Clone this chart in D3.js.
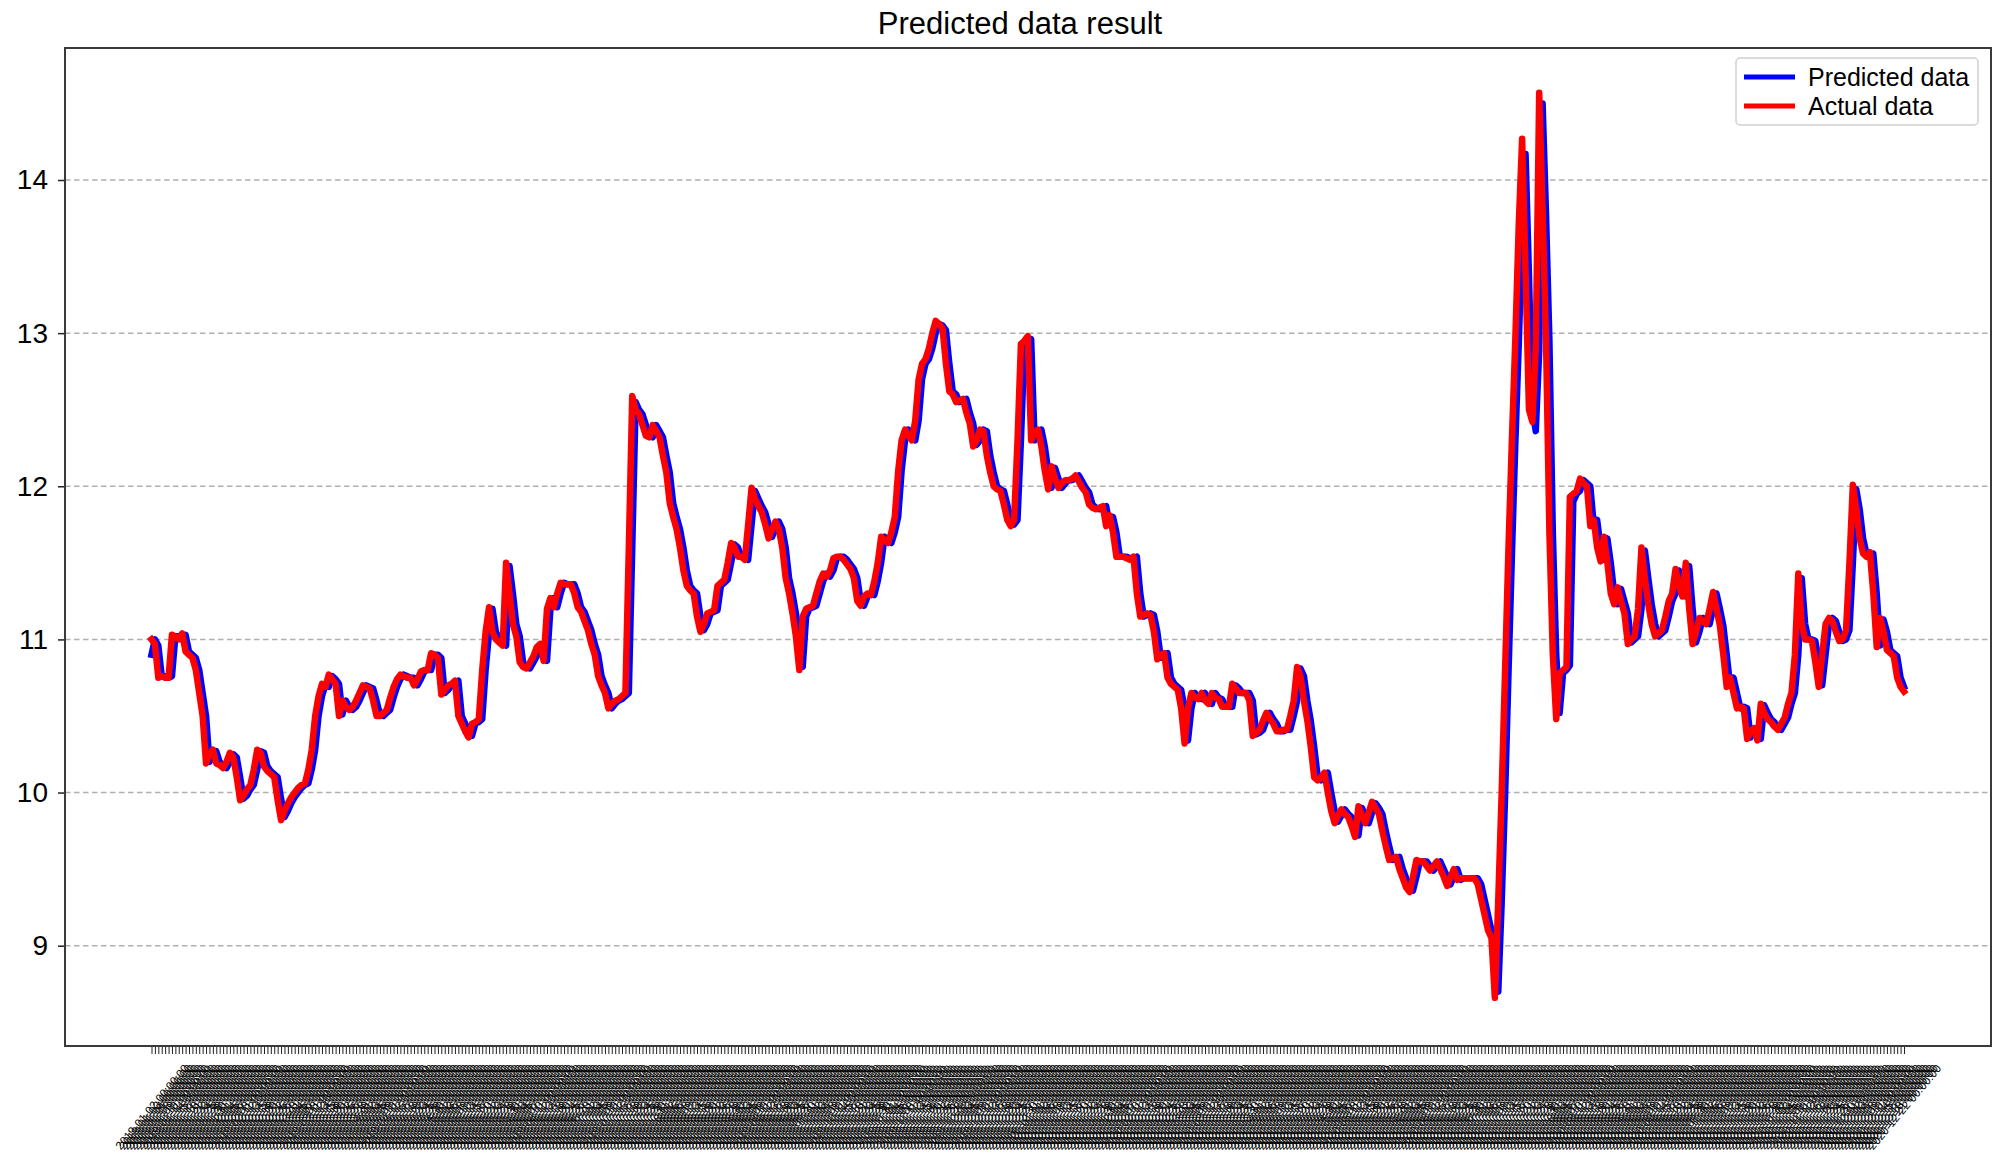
<!DOCTYPE html>
<html>
<head>
<meta charset="utf-8">
<script src="https://cdn.jsdelivr.net/npm/d3@7"></script>
<style>
  html, body { margin: 0; padding: 0; background: #ffffff; }
  svg { display: block; font-family: "Liberation Sans", Arial, sans-serif; }
</style>
</head>
<body>
<svg id="chart" width="2000" height="1160"></svg>
<script>
const actual = [
11.0,10.97,10.75,10.76,10.75,10.75,11.03,11.02,11.0,11.04,
10.92,10.9,10.88,10.8,10.65,10.5,10.19,10.25,10.28,10.19,
10.18,10.16,10.2,10.26,10.23,10.1,9.95,9.98,10.02,10.05,
10.15,10.28,10.26,10.17,10.14,10.12,10.1,9.95,9.82,9.88,
9.93,9.97,10.0,10.03,10.05,10.06,10.15,10.28,10.5,10.63,
10.71,10.69,10.77,10.74,10.71,10.5,10.6,10.56,10.54,10.56,
10.6,10.65,10.7,10.69,10.68,10.6,10.5,10.5,10.52,10.54,
10.62,10.69,10.74,10.77,10.76,10.75,10.75,10.7,10.74,10.79,
10.8,10.8,10.91,10.9,10.88,10.64,10.67,10.70,10.71,10.73,
10.5,10.45,10.4,10.36,10.45,10.46,10.48,10.8,11.05,11.21,
11.05,11.0,10.98,10.96,11.5,11.3,11.1,11.02,10.85,10.82,
10.81,10.85,10.89,10.95,10.97,10.86,11.2,11.27,11.21,11.3,
11.37,11.36,11.36,11.36,11.3,11.21,11.18,11.12,11.06,10.97,
10.9,10.76,10.7,10.65,10.55,10.58,10.6,10.61,10.63,10.65,
11.6,12.59,12.5,12.47,12.4,12.33,12.32,12.4,12.36,12.32,
12.2,12.09,11.89,11.8,11.72,11.6,11.45,11.35,11.32,11.3,
11.15,11.05,11.1,11.17,11.18,11.19,11.35,11.37,11.39,11.5,
11.63,11.6,11.54,11.54,11.52,11.75,11.99,11.92,11.87,11.83,
11.75,11.66,11.72,11.77,11.72,11.6,11.4,11.3,11.17,11.02,
10.8,11.15,11.2,11.21,11.22,11.3,11.38,11.43,11.41,11.45,
11.53,11.54,11.54,11.52,11.49,11.46,11.4,11.25,11.22,11.28,
11.3,11.29,11.38,11.5,11.67,11.65,11.63,11.7,11.8,12.1,
12.3,12.37,12.33,12.3,12.43,12.7,12.8,12.83,12.9,13.0,
13.08,13.06,13.03,12.8,12.62,12.6,12.55,12.56,12.57,12.48,
12.41,12.26,12.3,12.37,12.36,12.2,12.09,12.0,11.98,11.97,
11.88,11.78,11.74,11.78,12.3,12.93,12.95,12.98,12.3,12.35,
12.37,12.26,12.1,11.98,12.13,12.05,11.99,12.02,12.04,12.04,
12.05,12.07,12.03,11.99,11.96,11.88,11.86,11.85,11.86,11.87,
11.74,11.81,11.7,11.54,11.54,11.54,11.53,11.52,11.54,11.3,
11.15,11.16,11.17,11.16,11.05,10.87,10.9,10.91,10.75,10.71,
10.69,10.67,10.55,10.32,10.55,10.65,10.62,10.61,10.65,10.6,
10.58,10.65,10.62,10.61,10.56,10.56,10.56,10.71,10.68,10.65,
10.65,10.65,10.6,10.37,10.39,10.41,10.47,10.52,10.48,10.45,
10.4,10.4,10.41,10.41,10.5,10.6,10.82,10.76,10.6,10.47,
10.3,10.1,10.08,10.1,10.13,10.0,9.88,9.8,9.85,9.89,
9.86,9.84,9.78,9.71,9.91,9.85,9.8,9.87,9.94,9.9,
9.86,9.75,9.65,9.56,9.57,9.58,9.5,9.44,9.38,9.35,
9.45,9.56,9.55,9.55,9.52,9.49,9.52,9.55,9.5,9.45,
9.39,9.45,9.5,9.43,9.44,9.44,9.44,9.44,9.44,9.4,
9.3,9.2,9.1,9.05,8.66,9.3,10.0,10.8,11.6,12.3,
12.96,13.7,14.27,13.4,12.5,12.42,12.9,14.57,13.8,12.96,
11.7,10.9,10.48,10.78,10.8,10.82,11.93,11.95,11.97,12.05,
12.02,12.0,11.74,11.78,11.6,11.51,11.67,11.5,11.3,11.23,
11.34,11.25,11.17,10.97,11.0,11.02,11.2,11.6,11.4,11.23,
11.1,11.02,11.04,11.06,11.15,11.25,11.3,11.46,11.35,11.28,
11.5,11.2,10.97,11.05,11.14,11.12,11.1,11.2,11.31,11.2,
11.09,10.9,10.69,10.75,10.65,10.55,10.56,10.55,10.35,10.4,
10.42,10.34,10.58,10.52,10.48,10.46,10.43,10.41,10.45,10.49,
10.58,10.65,10.9,11.43,11.1,11.0,11.0,10.99,10.85,10.69,
10.9,11.1,11.14,11.12,11.05,10.99,11.0,11.06,11.5,12.01,
11.85,11.66,11.56,11.54,11.57,11.3,10.95,11.14,11.05,10.93,
10.91,10.89,10.75,10.69,10.66
];

const predicted = [
10.9,11.0,10.96,10.76,10.76,10.75,10.76,11.02,11.02,11.0,
11.03,10.92,10.9,10.88,10.8,10.65,10.5,10.2,10.25,10.27,
10.2,10.18,10.16,10.2,10.25,10.23,10.1,9.96,9.98,10.02,
10.05,10.15,10.27,10.26,10.17,10.14,10.12,10.1,9.96,9.84,
9.88,9.93,9.97,10.0,10.03,10.05,10.06,10.15,10.28,10.5,
10.63,10.7,10.69,10.76,10.74,10.71,10.51,10.6,10.56,10.54,
10.56,10.6,10.65,10.7,10.69,10.68,10.6,10.51,10.5,10.52,
10.54,10.62,10.69,10.74,10.77,10.76,10.75,10.75,10.7,10.74,
10.79,10.8,10.8,10.9,10.9,10.88,10.65,10.67,10.7,10.71,
10.73,10.5,10.45,10.4,10.37,10.45,10.46,10.48,10.8,11.04,
11.2,11.05,11.0,10.98,10.96,11.48,11.3,11.1,11.02,10.85,
10.82,10.81,10.85,10.89,10.95,10.97,10.86,11.2,11.27,11.21,
11.3,11.37,11.36,11.36,11.36,11.3,11.21,11.18,11.12,11.06,
10.97,10.9,10.76,10.7,10.65,10.55,10.58,10.6,10.61,10.63,
10.65,11.6,12.55,12.5,12.47,12.4,12.33,12.32,12.4,12.36,
12.32,12.2,12.09,11.89,11.8,11.72,11.6,11.45,11.35,11.32,
11.3,11.15,11.06,11.1,11.17,11.18,11.19,11.35,11.37,11.39,
11.5,11.62,11.6,11.54,11.54,11.52,11.75,11.97,11.92,11.87,
11.83,11.75,11.67,11.72,11.77,11.72,11.6,11.4,11.3,11.17,
11.02,10.82,11.15,11.2,11.21,11.22,11.3,11.38,11.43,11.41,
11.45,11.53,11.54,11.54,11.52,11.49,11.46,11.4,11.25,11.22,
11.28,11.3,11.29,11.38,11.5,11.67,11.65,11.63,11.7,11.8,
12.1,12.3,12.37,12.33,12.3,12.43,12.7,12.8,12.83,12.9,
13.0,13.06,13.05,13.02,12.8,12.62,12.6,12.55,12.56,12.57,
12.48,12.41,12.27,12.3,12.37,12.36,12.2,12.09,12.0,11.98,
11.97,11.88,11.78,11.75,11.78,12.3,12.9,12.94,12.96,12.3,
12.35,12.37,12.26,12.1,11.99,12.12,12.05,11.99,12.02,12.04,
12.04,12.05,12.07,12.03,11.99,11.96,11.88,11.86,11.85,11.86,
11.87,11.75,11.8,11.7,11.54,11.54,11.54,11.53,11.52,11.54,
11.3,11.15,11.16,11.17,11.16,11.05,10.88,10.9,10.91,10.75,
10.71,10.69,10.67,10.55,10.34,10.55,10.65,10.62,10.61,10.65,
10.6,10.58,10.65,10.62,10.61,10.56,10.56,10.56,10.7,10.68,
10.65,10.65,10.65,10.6,10.38,10.39,10.41,10.47,10.52,10.48,
10.45,10.4,10.4,10.41,10.41,10.5,10.6,10.81,10.76,10.6,
10.47,10.3,10.11,10.08,10.1,10.13,10.0,9.88,9.81,9.85,
9.89,9.86,9.84,9.78,9.72,9.9,9.85,9.8,9.87,9.93,
9.9,9.86,9.75,9.65,9.56,9.57,9.58,9.5,9.44,9.38,
9.36,9.45,9.55,9.55,9.55,9.52,9.49,9.52,9.55,9.5,
9.45,9.4,9.45,9.5,9.43,9.44,9.44,9.44,9.44,9.44,
9.4,9.3,9.2,9.1,9.05,8.7,9.28,9.98,10.78,11.55,
12.28,12.92,13.65,14.17,13.38,12.5,12.36,12.88,14.5,13.78,
12.95,11.7,10.9,10.52,10.78,10.8,10.83,11.9,11.95,11.97,
12.04,12.02,12.0,11.75,11.78,11.6,11.52,11.66,11.5,11.3,
11.23,11.33,11.25,11.17,10.98,11.0,11.02,11.2,11.58,11.4,
11.23,11.1,11.02,11.04,11.06,11.15,11.25,11.3,11.45,11.35,
11.28,11.48,11.2,10.98,11.05,11.14,11.12,11.1,11.2,11.3,
11.2,11.09,10.9,10.7,10.75,10.65,10.55,10.56,10.55,10.36,
10.4,10.42,10.35,10.57,10.52,10.48,10.46,10.43,10.41,10.45,
10.49,10.58,10.65,10.9,11.4,11.1,11.0,11.0,10.99,10.85,
10.7,10.9,11.1,11.14,11.12,11.05,10.99,11.0,11.06,11.5,
11.98,11.85,11.66,11.56,11.54,11.56,11.3,10.96,11.13,11.05,
10.93,10.91,10.89,10.75,10.69
];

const yTicks = [9, 10, 11, 12, 13, 14];
const seriesNames = ["Predicted data", "Actual data"];
const seriesColors = ["#0000ff", "#ff0000"];
const titleText = "Predicted data result";

// Date category labels (trading days)
const categories = (function () {
  const out = [];
  const d = new Date(Date.UTC(2019, 0, 2));
  const n = Math.max(actual.length, predicted.length);
  while (out.length < n) {
    const wd = d.getUTCDay();
    if (wd !== 0 && wd !== 6) out.push(d.toISOString().slice(0, 10) + " 00:00:00");
    d.setUTCDate(d.getUTCDate() + 1);
  }
  return out;
})();

const svg = d3.select("#chart");
const plot = { left: 65, right: 1991, top: 48, bottom: 1046 };

const x = d3.scalePoint()
  .domain(categories)
  .range([151.5, 1904]);

const y = d3.scaleLinear()
  .domain([8.345, 14.862])
  .range([plot.bottom, plot.top]);

// Gridlines
svg.append("g")
  .selectAll("line")
  .data(yTicks)
  .join("line")
  .attr("x1", plot.left)
  .attr("x2", plot.right)
  .attr("y1", d => y(d))
  .attr("y2", d => y(d))
  .attr("stroke", "#b0b0b0")
  .attr("stroke-width", 1.5)
  .attr("stroke-dasharray", "5.5,3.5");

// Lines
const line = d3.line()
  .x((d, i) => x(categories[i]))
  .y(d => y(d));

const seriesData = [predicted, actual];
svg.append("g")
  .selectAll("path")
  .data(seriesData)
  .join("path")
  .attr("d", d => line(d))
  .attr("fill", "none")
  .attr("stroke", (d, i) => seriesColors[i])
  .attr("stroke-width", 6.5)
  .attr("stroke-linejoin", "round")
  .attr("stroke-linecap", "square");

// Y axis
const yAxis = svg.append("g")
  .attr("transform", `translate(${plot.left},0)`)
  .call(d3.axisLeft(y).tickValues(yTicks).tickFormat(d3.format("d")).tickSize(7).tickPadding(10));
yAxis.select(".domain").remove();
yAxis.selectAll(".tick line").attr("stroke", "#222").attr("stroke-width", 1.5);
yAxis.selectAll(".tick text")
  .attr("fill", "#000")
  .style("font-size", "28px")
  .style("font-family", "'Liberation Sans', Arial, sans-serif");

// X axis
const xAxis = svg.append("g")
  .attr("transform", `translate(0,${plot.bottom})`)
  .call(d3.axisBottom(x).tickSize(8).tickPadding(4));
xAxis.select(".domain").remove();
xAxis.selectAll(".tick line").attr("stroke", "#222").attr("stroke-width", 1);
xAxis.selectAll(".tick text")
  .attr("y", null)
  .attr("dy", "0.35em")
  .attr("text-anchor", "middle")
  .attr("transform", "translate(0,61) rotate(-50)")
  .attr("fill", "#000")
  .style("font-size", "11.5px")
  .style("font-family", "'Liberation Sans', Arial, sans-serif");

// Frame
svg.append("rect")
  .attr("x", plot.left)
  .attr("y", plot.top)
  .attr("width", plot.right - plot.left)
  .attr("height", plot.bottom - plot.top)
  .attr("fill", "none")
  .attr("stroke", "#3a3a3a")
  .attr("stroke-width", 2);

// Title
svg.append("text")
  .attr("x", 1020)
  .attr("y", 34)
  .attr("text-anchor", "middle")
  .attr("fill", "#000")
  .style("font-size", "31px")
  .text(titleText);

// Legend
const legend = svg.append("g");
legend.append("rect")
  .attr("x", 1736).attr("y", 58)
  .attr("width", 242).attr("height", 67)
  .attr("rx", 4).attr("ry", 4)
  .attr("fill", "#ffffff").attr("fill-opacity", 0.85)
  .attr("stroke", "#d0d0d0").attr("stroke-width", 1.5);
const items = legend.selectAll("g.item")
  .data(seriesNames)
  .join("g")
  .attr("class", "item")
  .attr("transform", (d, i) => `translate(0,${77 + i * 29})`);
items.append("line")
  .attr("x1", 1744).attr("x2", 1795)
  .attr("y1", 0).attr("y2", 0)
  .attr("stroke", (d, i) => seriesColors[i])
  .attr("stroke-width", 5);
items.append("text")
  .attr("x", 1808)
  .attr("y", 9)
  .attr("fill", "#000")
  .style("font-size", "25px")
  .text(d => d);
</script>
</body>
</html>
